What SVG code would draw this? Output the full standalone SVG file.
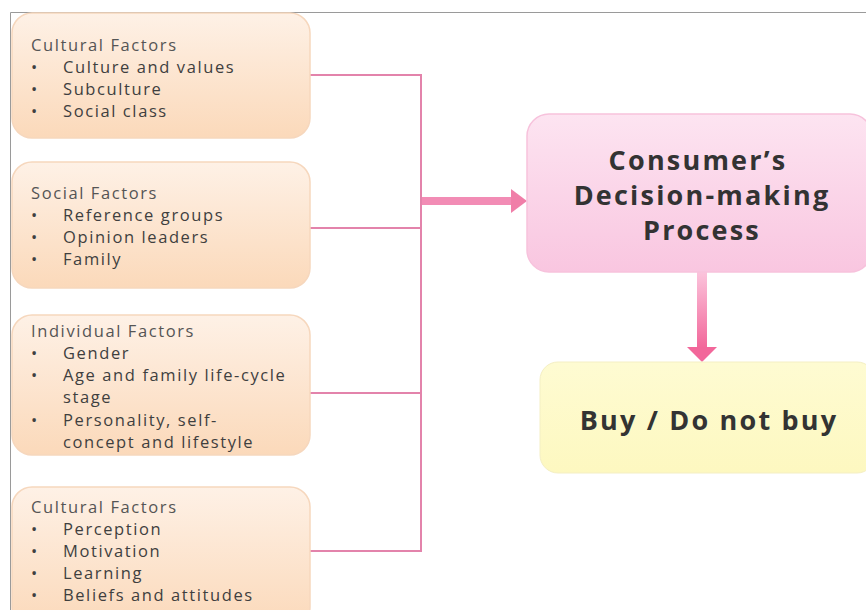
<svg xmlns="http://www.w3.org/2000/svg" width="866" height="610" viewBox="0 0 866 610">
<defs>
<linearGradient id="peach" x1="0" y1="0" x2="0" y2="1">
<stop offset="0" stop-color="#fef1e6"/>
<stop offset="1" stop-color="#fbd9ba"/>
</linearGradient>
<linearGradient id="pink" x1="0" y1="0" x2="0" y2="1">
<stop offset="0" stop-color="#fde4f1"/>
<stop offset="1" stop-color="#f9c6e0"/>
</linearGradient>
<linearGradient id="yellow" x1="0" y1="0" x2="0" y2="1">
<stop offset="0" stop-color="#fefbd2"/>
<stop offset="1" stop-color="#fdf8c0"/>
</linearGradient>
<linearGradient id="downgrad" x1="0" y1="0" x2="0" y2="1">
<stop offset="0" stop-color="#fbc4dc"/>
<stop offset="1" stop-color="#f2679a"/>
</linearGradient>
</defs>
<style>
.factor{fill:url(#peach);stroke:#f6d7bd;stroke-width:1.5}
.t{font-family:"Open Sans","Liberation Sans",sans-serif;font-size:16.5px;letter-spacing:1.6px;fill:#3f3f3f}
.h{font-family:"Open Sans","Liberation Sans",sans-serif;font-size:16.5px;letter-spacing:1.6px;fill:#555}
.big{font-family:"Open Sans","Liberation Sans",sans-serif;font-size:27px;letter-spacing:2.2px;font-weight:bold;fill:#333;text-anchor:middle}
.conn{fill:none;stroke:#e383ab;stroke-width:2}
</style>
<rect width="866" height="610" fill="#fff"/>
<path d="M10.5,610 V12.5 H866" fill="none" stroke="#9a9a9a" stroke-width="1"/>

<g id="connectors">
<path class="conn" d="M310,75 H421 V551 H310"/>
<path class="conn" d="M310,228 H421"/>
<path class="conn" d="M310,393 H421"/>
<rect x="422" y="197" width="92" height="8" fill="#f28cb5"/>
<path d="M511,189 L527,201 L511,213 Z" fill="#f07ea8"/>
<rect x="697" y="272" width="10" height="76" fill="url(#downgrad)"/>
<path d="M687,347 H717 L702,362 Z" fill="#f2679a"/>
</g>

<g id="cultural1">
<rect class="factor" x="12" y="13" width="298" height="125" rx="20"/>
<text class="h" x="31" y="51">Cultural Factors</text>
<text class="t" x="31" y="73">•</text><text class="t" x="63" y="73">Culture and values</text>
<text class="t" x="31" y="95">•</text><text class="t" x="63" y="95">Subculture</text>
<text class="t" x="31" y="117">•</text><text class="t" x="63" y="117">Social class</text>
</g>

<g id="social">
<rect class="factor" x="12" y="162" width="298" height="126" rx="20"/>
<text class="h" x="31" y="199">Social Factors</text>
<text class="t" x="31" y="221">•</text><text class="t" x="63" y="221">Reference groups</text>
<text class="t" x="31" y="243">•</text><text class="t" x="63" y="243">Opinion leaders</text>
<text class="t" x="31" y="265">•</text><text class="t" x="63" y="265">Family</text>
</g>

<g id="individual">
<rect class="factor" x="12" y="315" width="298" height="140" rx="20"/>
<text class="h" x="31" y="337">Individual Factors</text>
<text class="t" x="31" y="359">•</text><text class="t" x="63" y="359">Gender</text>
<text class="t" x="31" y="381">•</text><text class="t" x="63" y="381">Age and family life-cycle</text>
<text class="t" x="63" y="403">stage</text>
<text class="t" x="31" y="426">•</text><text class="t" x="63" y="426">Personality, self-</text>
<text class="t" x="63" y="448">concept and lifestyle</text>
</g>

<g id="cultural2">
<rect class="factor" x="12" y="487" width="298" height="140" rx="20"/>
<text class="h" x="31" y="513">Cultural Factors</text>
<text class="t" x="31" y="535">•</text><text class="t" x="63" y="535">Perception</text>
<text class="t" x="31" y="557">•</text><text class="t" x="63" y="557">Motivation</text>
<text class="t" x="31" y="579">•</text><text class="t" x="63" y="579">Learning</text>
<text class="t" x="31" y="601">•</text><text class="t" x="63" y="601">Beliefs and attitudes</text>
</g>

<g id="decision">
<rect x="527" y="114" width="345" height="158" rx="22" fill="url(#pink)" stroke="#f7c2dc" stroke-width="1.5"/>
<text class="big" x="698" y="170">Consumer’s</text>
<text class="big" x="702" y="205">Decision-making</text>
<text class="big" x="702" y="240">Process</text>
</g>

<g id="buy">
<rect x="540" y="362" width="335" height="111" rx="18" fill="url(#yellow)" stroke="#f4efc4" stroke-width="1"/>
<text class="big" x="709" y="430">Buy / Do not buy</text>
</g>
</svg>
